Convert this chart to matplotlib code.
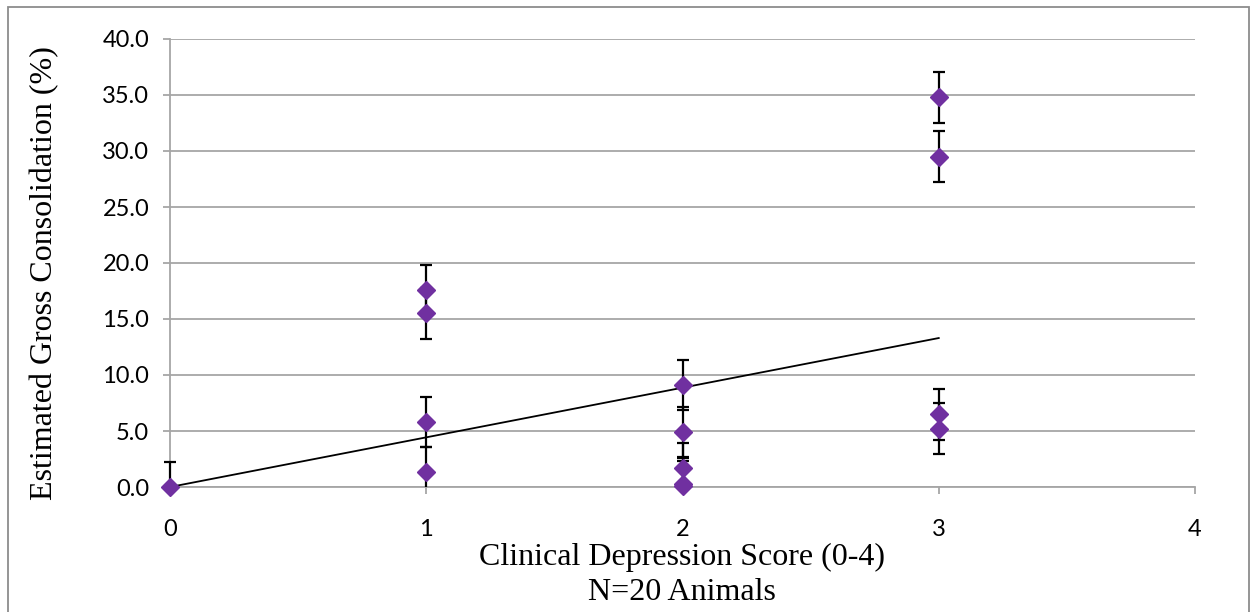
import matplotlib
matplotlib.use("Agg")
import matplotlib.pyplot as plt
from matplotlib.patches import Rectangle

# data
score = [0, 1, 1, 1, 1, 2, 2, 2, 2, 2, 3, 3, 3, 3]
consolidation = [0.0, 17.6, 15.5, 5.8, 1.3, 9.1, 4.9, 1.7, 0.3, 0.1, 34.8, 29.5, 6.5, 5.2]
err = [2.26] * len(score)
trend_x = [0, 3]
trend_y = [0.0, 13.3]

x_ticks = [0, 1, 2, 3, 4]
y_ticks = [0, 5, 10, 15, 20, 25, 30, 35, 40]

W, H = 1253, 612
fig = plt.figure(figsize=(W / 100, H / 100), dpi=100)
ax = fig.add_axes([170 / W, 1 - 487 / H, (1195 - 170) / W, (487 - 39) / H])

grid_c = '#a6a6a6'
ax.set_xlim(0, 4)
ax.set_ylim(0, 40)
ax.set_yticks(y_ticks)
ax.set_xticks(x_ticks)
ax.set_yticklabels([f"{v:.1f}" for v in y_ticks])
ax.yaxis.grid(True, color=grid_c, linewidth=1.3)
ax.set_axisbelow(True)
for s in ['top', 'right']:
    ax.spines[s].set_visible(False)
for s in ['left', 'bottom']:
    ax.spines[s].set_color(grid_c)
    ax.spines[s].set_linewidth(1.3)
ax.tick_params(axis='y', direction='out', length=5, width=1.3, color=grid_c, pad=10,
               labelsize=17)
ax.tick_params(axis='x', direction='out', length=5, width=1.3, color=grid_c, pad=18,
               labelsize=17)
for lab in ax.get_xticklabels() + ax.get_yticklabels():
    lab.set_fontfamily('Lato')

# trend line
ax.plot(trend_x, trend_y, color='black', linewidth=1.3, zorder=3)

# error bars and points; clip only below the x axis so the bar at x=0 stays whole
eb = ax.errorbar(score, consolidation, yerr=err, fmt='none', ecolor='black',
                 elinewidth=1.6, capsize=4.5, capthick=1.6, zorder=4)
clip = Rectangle((-0.05, 0), 1.1, 1.1, transform=ax.transAxes)
for art in list(eb[1]) + list(eb[2]):
    art.set_clip_path(clip)
ax.plot(score, consolidation, linestyle='none', marker='D', markersize=9.5,
        color='#7030a0', markeredgecolor='#7030a0', zorder=5, clip_on=False)

serif = 'Liberation Serif'
fig.text(682 / W, 1 - 557 / H, "Clinical Depression Score (0-4)", ha='center',
         va='center', fontsize=23, family=serif)
fig.text(682 / W, 1 - 593 / H, "N=20 Animals", ha='center', va='center',
         fontsize=23, family=serif)
fig.text(45 / W, 1 - 273 / H, "Estimated Gross Consolidation (%)", ha='center',
         va='center', rotation=90, fontsize=23, family=serif)

# chart area border
fig.patches.append(Rectangle((8 / W, -0.05), (1249 - 8) / W, 1.05 - 7 / H,
                             transform=fig.transFigure, fill=False,
                             edgecolor='#8c8c8c', linewidth=1.3))

fig.savefig('out.png', dpi=100)
